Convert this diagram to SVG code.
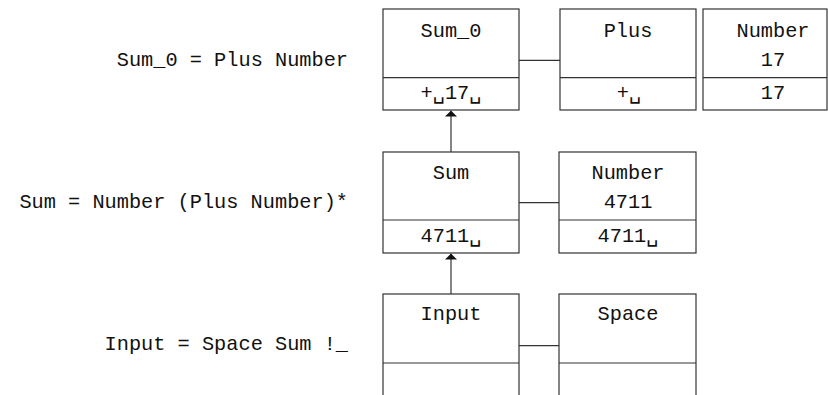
<svg xmlns="http://www.w3.org/2000/svg" width="828" height="395" viewBox="0 0 828 395">
<style>
text{font-family:"Liberation Mono","DejaVu Sans Mono",monospace;font-size:20.3px;fill:#111}
.c{text-anchor:middle}
.l{text-anchor:end}
.box,line{stroke:#333;stroke-width:1.2;fill:none}
</style>
<defs>
<marker id="ah" viewBox="0 0 6 12" refX="6" refY="6" markerWidth="6" markerHeight="12" markerUnits="userSpaceOnUse" orient="auto"><path d="M0,0 L6,6 L0,12 z" fill="#111"/></marker>
</defs>
<rect x="0" y="0" width="828" height="395" fill="#fff"/>
<g id="labels">
<text class="l" x="348" y="66">Sum_0 = Plus Number</text>
<text class="l" x="348" y="208">Sum = Number (Plus Number)*</text>
<text class="l" x="348" y="350">Input = Space Sum !_</text>
</g>
<g id="sum0">
<rect class="box" x="383" y="9" width="136" height="101"/>
<line x1="383" y1="77.7" x2="519" y2="77.7"/>
<text class="c" x="451" y="37">Sum_0</text>
<text class="c" x="451" y="99">+␣17␣</text>
</g>
<g id="plus">
<rect class="box" x="560" y="9" width="136" height="101"/>
<line x1="560" y1="77.7" x2="696" y2="77.7"/>
<text class="c" x="628" y="37">Plus</text>
<text class="c" x="629" y="99">+␣</text>
</g>
<g id="number17">
<rect class="box" x="703" y="9" width="124" height="101"/>
<line x1="703" y1="77.7" x2="827" y2="77.7"/>
<text class="c" x="773" y="37">Number</text>
<text class="c" x="773" y="66">17</text>
<text class="c" x="773" y="99">17</text>
</g>
<g id="sum">
<rect class="box" x="383" y="152" width="136" height="101"/>
<line x1="383" y1="220" x2="519" y2="220"/>
<text class="c" x="451" y="179">Sum</text>
<text class="c" x="451" y="242">4711␣</text>
</g>
<g id="number4711">
<rect class="box" x="559" y="152" width="137" height="101"/>
<line x1="559" y1="220" x2="696" y2="220"/>
<text class="c" x="628" y="179">Number</text>
<text class="c" x="628" y="208">4711</text>
<text class="c" x="628" y="242">4711␣</text>
</g>
<g id="input">
<rect class="box" x="383" y="294" width="136" height="110"/>
<line x1="383" y1="363" x2="519" y2="363"/>
<text class="c" x="451" y="320">Input</text>
</g>
<g id="space">
<rect class="box" x="559" y="294" width="137" height="110"/>
<line x1="559" y1="363" x2="696" y2="363"/>
<text class="c" x="628" y="320">Space</text>
</g>
<g id="connectors">
<line x1="519" y1="60.3" x2="560" y2="60.3"/>
<line x1="519" y1="202.7" x2="559" y2="202.7"/>
<line x1="519" y1="345.7" x2="559" y2="345.7"/>
<line x1="451" y1="152" x2="451" y2="110.6" marker-end="url(#ah)"/>
<line x1="451" y1="294" x2="451" y2="253.6" marker-end="url(#ah)"/>
</g>
</svg>
